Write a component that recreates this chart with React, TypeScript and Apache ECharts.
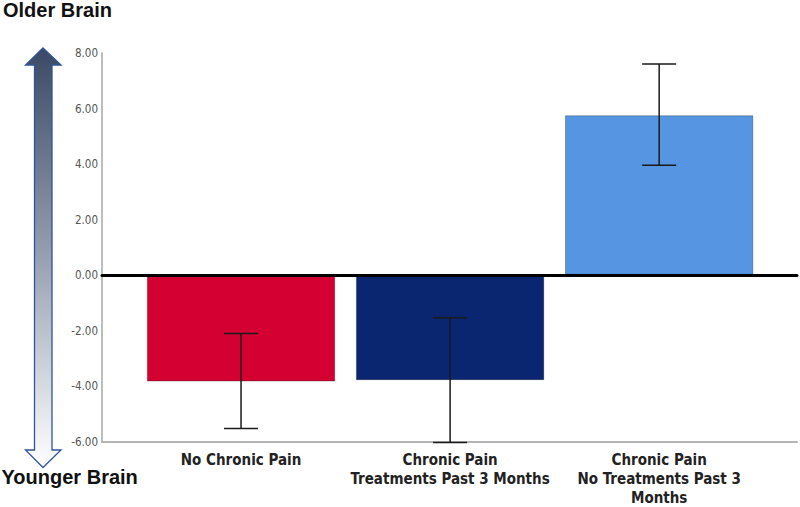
import React, { useEffect, useRef } from "react";
import * as echarts from "echarts";

const categories = [
  "No Chronic Pain",
  "Chronic Pain\nTreatments Past 3 Months",
  "Chronic Pain\nNo Treatments Past 3\nMonths",
];
const means = [-3.85, -3.8, 5.75];
const errLow = [-5.55, -6.05, 3.95];
const errHigh = [-2.12, -1.55, 7.6];
const barColors = ["#d50032", "#0b2670", "#5595e2"];
const yMin = -6;
const yMax = 8;
const yStep = 2;

export default function App() {
  const ref = useRef<HTMLDivElement>(null);
  useEffect(() => {
    if (!ref.current) return;
    const chart = echarts.init(ref.current, undefined, { renderer: "svg" });
    const top = 53;
    const bottom = 65;
    const errData = categories.map((_, i) => [i, errLow[i], errHigh[i]]);
    const condensed = "'Liberation Sans Narrow', 'DejaVu Sans Condensed', sans-serif";
    const option: any = {
      animation: false,
      backgroundColor: "#ffffff",
      grid: [
        { left: 136.5, right: 36.3, top, bottom },
        { left: 102, right: 3, top, bottom },
      ],
      xAxis: [
        {
          type: "category",
          gridIndex: 0,
          data: categories,
          axisLine: { show: false },
          axisTick: { show: false },
          axisLabel: {
            interval: 0,
            margin: 9,
            fontSize: 15,
            fontWeight: "bold",
            lineHeight: 19,
            fontFamily: condensed,
            color: "#222222",
          },
        },
        {
          type: "value",
          gridIndex: 1,
          min: 0,
          max: 1,
          position: "bottom",
          axisLine: { show: true, onZero: false, lineStyle: { color: "#b4b4b4", width: 2 } },
          axisTick: { show: false },
          axisLabel: { show: false },
          splitLine: { show: false },
        },
        {
          type: "value",
          gridIndex: 1,
          min: 0,
          max: 1,
          position: "top",
          z: 10,
          axisLine: { show: true, onZero: true, lineStyle: { color: "#000000", width: 3 } },
          axisTick: { show: false },
          axisLabel: { show: false },
          splitLine: { show: false },
        },
      ],
      yAxis: [
        {
          type: "value",
          gridIndex: 0,
          min: yMin,
          max: yMax,
          interval: yStep,
          show: false,
        },
        {
          type: "value",
          gridIndex: 1,
          min: yMin,
          max: yMax,
          interval: yStep,
          axisLine: { show: true, lineStyle: { color: "#bdbdbd", width: 2 } },
          axisTick: { show: false },
          splitLine: { show: false },
          axisLabel: {
            margin: 4,
            fontSize: 11.5,
            fontFamily: condensed,
            color: "#555555",
            formatter: (v: number) => v.toFixed(2),
          },
        },
      ],
      series: [
        {
          type: "bar",
          xAxisIndex: 0,
          yAxisIndex: 0,
          barWidth: "90%",
          z: 2,
          data: means.map((v, i) => ({
            value: v,
            itemStyle: { color: barColors[i], borderColor: "rgba(0,0,0,0.35)", borderWidth: 0.8 },
          })),
        },
        {
          type: "custom",
          xAxisIndex: 0,
          yAxisIndex: 0,
          z: 5,
          encode: { x: 0, y: [1, 2] },
          data: errData,
          renderItem: (params: any, api: any) => {
            const x = api.value(0);
            const lo = api.coord([x, api.value(1)]);
            const hi = api.coord([x, api.value(2)]);
            const hw = 17;
            const style = { stroke: "#1a1a1a", lineWidth: 1.5 };
            return {
              type: "group",
              children: [
                { type: "line", shape: { x1: lo[0], y1: lo[1], x2: hi[0], y2: hi[1] }, style },
                { type: "line", shape: { x1: lo[0] - hw, y1: lo[1], x2: lo[0] + hw, y2: lo[1] }, style },
                { type: "line", shape: { x1: hi[0] - hw, y1: hi[1], x2: hi[0] + hw, y2: hi[1] }, style },
              ],
            };
          },
        },
      ],
      graphic: [
        {
          type: "polygon",
          shape: {
            points: [
              [43, 48],
              [61, 65],
              [52, 65],
              [52, 450],
              [61, 450],
              [43, 467.5],
              [25.5, 450],
              [34.5, 450],
              [34.5, 65],
              [25.5, 65],
            ],
          },
          style: {
            fill: new echarts.graphic.LinearGradient(0, 0, 0, 1, [
              { offset: 0, color: "#3a4966" },
              { offset: 0.5, color: "#97a0b2" },
              { offset: 1, color: "#ffffff" },
            ]),
            stroke: "#2f5597",
            lineWidth: 1.3,
          },
        },
        {
          type: "text",
          x: 3,
          y: 10,
          style: {
            text: "Older Brain",
            fontSize: 20,
            fontWeight: "bold",
            fontFamily: "'Liberation Sans', Arial, sans-serif",
            fill: "#111111",
            textVerticalAlign: "middle",
          },
        },
        {
          type: "text",
          x: 1.5,
          y: 477,
          style: {
            text: "Younger Brain",
            fontSize: 20,
            fontWeight: "bold",
            fontFamily: "'Liberation Sans', Arial, sans-serif",
            fill: "#111111",
            textVerticalAlign: "middle",
          },
        },
      ],
    };
    chart.setOption(option);
    return () => chart.dispose();
  }, []);
  return (
    <div
      ref={ref}
      style={{ position: "fixed", left: 0, top: 0, width: 800, height: 507, background: "#fff" }}
    />
  );
}
